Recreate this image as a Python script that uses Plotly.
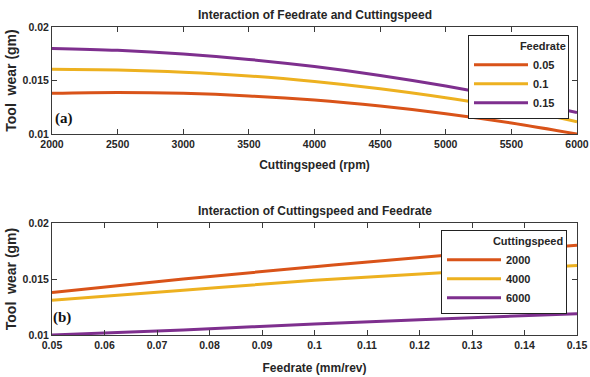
import plotly.graph_objects as go

# ---- Panel (a): Tool wear vs cutting speed for three feed rates ----
speed = [2000, 2500, 3000, 3500, 4000, 4500, 5000, 5500, 6000]
feed_labels = ["0.05", "0.1", "0.15"]
wear_feed_005 = [0.01380, 0.01388, 0.01380, 0.01356, 0.01317, 0.01261, 0.01190, 0.01103, 0.01000]
wear_feed_010 = [0.01605, 0.01598, 0.01578, 0.01543, 0.01490, 0.01422, 0.01338, 0.01240, 0.01115]
wear_feed_015 = [0.01800, 0.01782, 0.01748, 0.01697, 0.01630, 0.01547, 0.01448, 0.01332, 0.01200]

# ---- Panel (b): Tool wear vs feed rate for three cutting speeds ----
feed = [0.05, 0.075, 0.1, 0.125, 0.15]
speed_labels = ["2000", "4000", "6000"]
wear_speed_2000 = [0.01380, 0.01500, 0.01610, 0.01712, 0.01802]
wear_speed_4000 = [0.01310, 0.01400, 0.01488, 0.01558, 0.01620]
wear_speed_6000 = [0.01000, 0.01045, 0.01098, 0.01145, 0.01190]

x1_ticks = [2000, 2500, 3000, 3500, 4000, 4500, 5000, 5500, 6000]
x2_ticks = [0.05, 0.06, 0.07, 0.08, 0.09, 0.10, 0.11, 0.12, 0.13, 0.14, 0.15]
x2_ticktext = ["0.05", "0.06", "0.07", "0.08", "0.09", "0.1", "0.11", "0.12", "0.13", "0.14", "0.15"]
y_ticks = [0.01, 0.015, 0.02]
y_ticktext = ["0.01", "0.015", "0.02"]

colors = ["#D95319", "#EDB120", "#7E2F8E"]
SANS = "Liberation Sans, Arial, sans-serif"
TXT = "#262626"
AX = "#3a3a3a"

W, H = 590, 377
fig = go.Figure()

for name, ys, c in zip(feed_labels, [wear_feed_005, wear_feed_010, wear_feed_015], colors):
    fig.add_trace(go.Scatter(x=speed, y=ys, mode="lines", name=name,
                             line=dict(color=c, width=3, shape="spline"),
                             xaxis="x", yaxis="y", legend="legend"))
for name, ys, c in zip(speed_labels, [wear_speed_2000, wear_speed_4000, wear_speed_6000], colors):
    fig.add_trace(go.Scatter(x=feed, y=ys, mode="lines", name=name,
                             line=dict(color=c, width=3, shape="spline"),
                             xaxis="x2", yaxis="y2", legend="legend2"))

def px_x(p):
    return p / W

def px_y(p):
    return 1 - p / H

tickfont = dict(family=SANS, size=10.5, color=TXT, weight="bold")
titlefont = dict(family=SANS, size=12, color=TXT, weight="bold")
ytitlefont = dict(family=SANS, size=14, color=TXT, weight="bold")

common_axis = dict(showline=True, linecolor=AX, linewidth=1, mirror="ticks",
                   ticks="inside", ticklen=5, tickcolor=AX, showgrid=False,
                   zeroline=False, tickfont=tickfont, automargin=False)

x_dom = [px_x(52), px_x(577)]
legfont = dict(family=SANS, size=11, color=TXT, weight="bold")

fig.update_layout(
    template="none",
    width=W, height=H,
    margin=dict(l=0, r=0, t=0, b=0),
    paper_bgcolor="white", plot_bgcolor="white",
    xaxis=dict(domain=x_dom, anchor="y", range=[2000, 6000],
               tickvals=x1_ticks, ticktext=[str(v) for v in x1_ticks],
               title=dict(text="Cuttingspeed (rpm)", font=titlefont, standoff=12),
               **common_axis),
    yaxis=dict(domain=[px_y(134), px_y(27)], anchor="x", range=[0.01, 0.02],
               tickvals=y_ticks, ticktext=y_ticktext,
               title=dict(text="Tool  wear (gm)", font=ytitlefont, standoff=2),
               **common_axis),
    xaxis2=dict(domain=x_dom, anchor="y2", range=[0.05, 0.15],
                tickvals=x2_ticks, ticktext=x2_ticktext,
                title=dict(text="Feedrate (mm/rev)", font=titlefont, standoff=14),
                **common_axis),
    yaxis2=dict(domain=[px_y(335), px_y(223)], anchor="x2", range=[0.01, 0.02],
                tickvals=y_ticks, ticktext=y_ticktext,
                title=dict(text="Tool  wear (gm)", font=ytitlefont, standoff=2),
                **common_axis),
    legend=dict(x=px_x(468), y=px_y(35), xanchor="left", yanchor="top",
                bgcolor="white", bordercolor="#222222", borderwidth=1,
                font=legfont,
                title=dict(text="\u00a0" * 16 + "Feedrate", side="top", font=legfont),
                itemwidth=54),
    legend2=dict(x=px_x(441), y=px_y(230), xanchor="left", yanchor="top",
                 bgcolor="white", bordercolor="#222222", borderwidth=1,
                 font=legfont,
                 title=dict(text="\u00a0" * 16 + "Cuttingspeed", side="top", font=legfont),
                 itemwidth=54),
    showlegend=True,
)

annotations = [
    dict(text="Interaction of Feedrate and Cuttingspeed", x=(x_dom[0] + x_dom[1]) / 2,
         y=px_y(15), xref="paper", yref="paper", showarrow=False,
         xanchor="center", yanchor="middle", font=titlefont),
    dict(text="Interaction of Cuttingspeed and Feedrate", x=(x_dom[0] + x_dom[1]) / 2,
         y=px_y(211), xref="paper", yref="paper", showarrow=False,
         xanchor="center", yanchor="middle", font=titlefont),
    dict(text="(a)", x=px_x(53), y=px_y(118), xref="paper", yref="paper", showarrow=False,
         xanchor="left", yanchor="middle",
         font=dict(family="Liberation Serif, Times New Roman, serif", size=15, color="#111", weight="bold")),
    dict(text="(b)", x=px_x(51), y=px_y(317), xref="paper", yref="paper", showarrow=False,
         xanchor="left", yanchor="middle",
         font=dict(family="Liberation Serif, Times New Roman, serif", size=15, color="#111", weight="bold")),
]
fig.update_layout(annotations=annotations)

fig.write_html("out.html")
